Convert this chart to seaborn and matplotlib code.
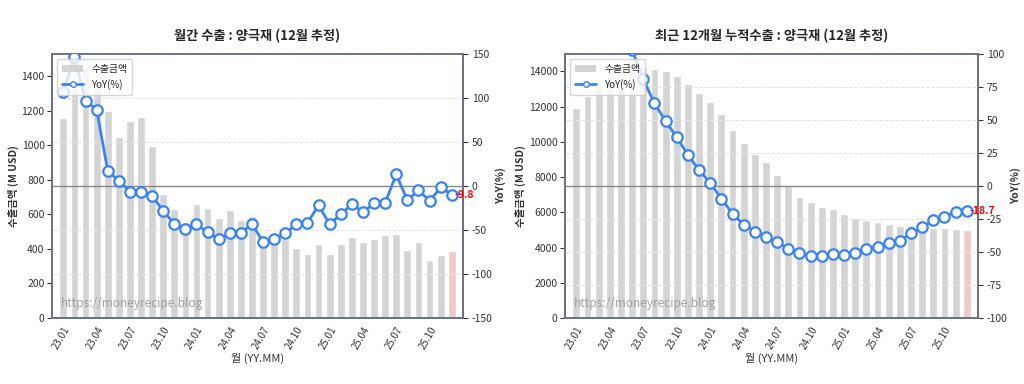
import numpy as np
import pandas as pd
import matplotlib
matplotlib.use('Agg')
import matplotlib.pyplot as plt
from matplotlib.patches import Patch
from matplotlib.lines import Line2D
import seaborn as sns

months = ['23.01', '23.02', '23.03', '23.04', '23.05', '23.06', '23.07', '23.08', '23.09',
          '23.10', '23.11', '23.12', '24.01', '24.02', '24.03', '24.04', '24.05', '24.06',
          '24.07', '24.08', '24.09', '24.10', '24.11', '24.12', '25.01', '25.02', '25.03',
          '25.04', '25.05', '25.06', '25.07', '25.08', '25.09', '25.10', '25.11', '25.12']

monthly_export = [1160, 1330, 1456, 1340, 1198, 1048, 1144, 1163, 995, 721, 631, 555,
                  658, 638, 581, 623, 565, 590, 420, 458, 460, 404, 373, 430,
                  369, 430, 467, 442, 456, 479, 485, 392, 439, 338, 364, 388]
monthly_yoy = [106.5, 147, 97, 87, 17.4, 6, -6.4, -7.2, -11, -28.4, -43, -49,
               -43.6, -52.6, -60.6, -53.8, -53, -43.6, -63.3, -60.6, -53.8, -43.6, -41.7, -22,
               -43.6, -32, -20.8, -29.5, -19.7, -19, 13.3, -16.3, -4.5, -17, -1.5, -9.8]

rolling_export = [11920, 12600, 13150, 13700, 13950, 14100, 14270, 14130, 14020, 13735, 13265, 12750,
                  12270, 11565, 10675, 9955, 9315, 8860, 8124, 7470, 6895, 6610, 6327, 6196,
                  5930, 5704, 5573, 5430, 5330, 5195, 5280, 5200, 5137, 5100, 5062, 5006]
rolling_yoy = [130, 125, 120, 115, 110, 103, 81, 62.6, 49.2, 36.9, 23.5, 12.1,
               2.3, -9.6, -21, -29.3, -34.6, -38.6, -42.4, -47.7, -51, -53, -53, -51.5,
               -52.5, -51, -47.7, -46.5, -43.4, -41.7, -35.9, -31.3, -25.8, -23.2, -19.7, -18.7]

sns.set_style('white')
plt.rcParams['font.family'] = ['Noto Sans CJK KR', 'DejaVu Sans']
plt.rcParams['axes.unicode_minus'] = False

BAR = '#d4d4d4'
LAST = '#f4c4c4'
LINE = '#3b82f6'
SPINE = '#6b7280'
TXT = '#333333'


def draw_panel(ax, values, yoy, title, yoy_lim, yoy_step):
    df = pd.DataFrame({'month': months, 'value': values})
    colors = [BAR] * (len(months) - 1) + [LAST]
    sns.barplot(data=df, x='month', y='value', hue='month', palette=colors,
                legend=False, width=0.7, ax=ax, zorder=1)
    ax.set_ylim(0, max(values) * 1.05)
    ax.set_xlim(-1, len(months))
    ax.set_xticks(range(0, len(months) - 1, 3))
    ax.set_xticklabels(months[:-1:3], rotation=60, ha='right',
                       rotation_mode='anchor', fontsize=7, color=TXT)
    ax.tick_params(axis='y', labelsize=7.5, colors=TXT, pad=2)
    ax.tick_params(axis='x', length=3, colors=TXT, pad=2)
    ax.set_xlabel('월 (YY.MM)', fontsize=8, color=TXT, labelpad=1)
    ax.set_ylabel('수출금액 (M USD)', fontsize=7.5, fontweight='bold', color=TXT, labelpad=2)
    ax.set_title(title, fontsize=9.5, fontweight='bold', pad=10)

    ax2 = ax.twinx()
    ax2.grid(axis='y', linestyle='--', color='#e5e5e5', linewidth=0.7)
    ax2.axhline(0, color='#888888', linewidth=1, zorder=2)
    sns.lineplot(x=np.arange(len(yoy)), y=yoy, ax=ax2, color=LINE, linewidth=2,
                 marker='o', markersize=7.5, markerfacecolor='white',
                 markeredgecolor=LINE, markeredgewidth=1.6, zorder=3)
    ax2.set_ylim(-yoy_lim, yoy_lim)
    ax2.set_yticks(np.arange(-yoy_lim, yoy_lim + 1, yoy_step))
    ax2.tick_params(axis='y', labelsize=7.5, colors=TXT, pad=3)
    ax2.set_ylabel('YoY(%)', fontsize=7.5, fontweight='bold', color=TXT, labelpad=2)
    ax2.annotate(f'{yoy[-1]:.1f}', xy=(len(yoy) - 1, yoy[-1]), xytext=(2, 0),
                 textcoords='offset points', ha='left', va='center',
                 color='red', fontsize=7.5, fontweight='bold', zorder=6)

    for a in (ax, ax2):
        for s in a.spines.values():
            s.set_color(SPINE)
            s.set_linewidth(1.3)

    ax.text(0.02, 0.04, 'https://moneyrecipe.blog', transform=ax.transAxes,
            fontsize=8.5, color='#999999', alpha=0.9, zorder=5)

    handles = [Patch(facecolor=BAR, edgecolor='none', label='수출금액'),
               Line2D([0], [0], color=LINE, lw=2, marker='o', markersize=4,
                      markerfacecolor='white', markeredgecolor=LINE, label='YoY(%)')]
    ax2.legend(handles=handles, loc='upper left', fontsize=7, framealpha=0.8,
               borderpad=0.5, handlelength=2.2)


fig = plt.figure(figsize=(10.24, 3.84), dpi=100)
ax_l = fig.add_axes([0.051, 0.172, 0.401, 0.687])
ax_r = fig.add_axes([0.552, 0.172, 0.403, 0.687])

draw_panel(ax_l, monthly_export, monthly_yoy, '월간 수출 : 양극재 (12월 추정)', 150, 50)
draw_panel(ax_r, rolling_export, rolling_yoy, '최근 12개월 누적수출 : 양극재 (12월 추정)', 100, 25)

fig.savefig('out.png', dpi=100)
